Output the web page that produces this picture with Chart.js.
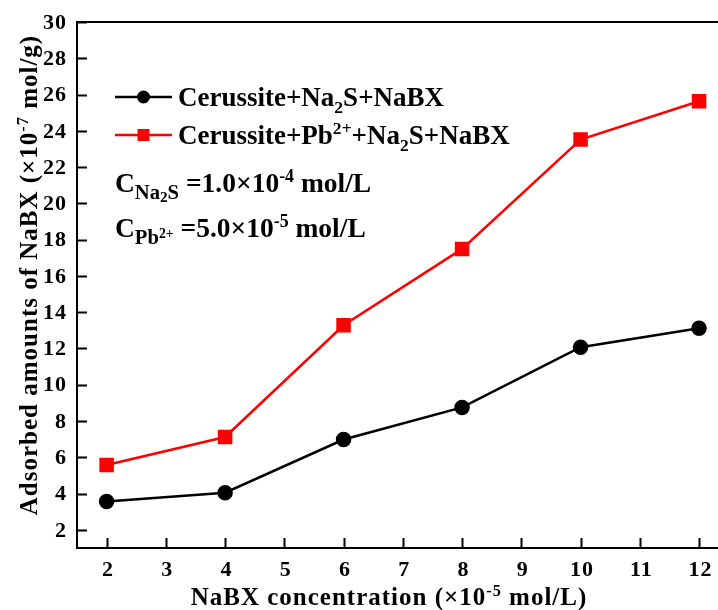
<!DOCTYPE html>
<html>
<head>
<meta charset="utf-8">
<script src="https://cdn.jsdelivr.net/npm/chart.js@4.4.1/dist/chart.umd.min.js"></script>
<style>
  html, body { margin: 0; padding: 0; background: #fff; overflow: hidden; }
  #wrap { width: 729px; height: 610px; position: relative; }
</style>
</head>
<body>
<div id="wrap"><canvas id="myChart"></canvas></div>
<script>
const ctx = document.getElementById("myChart")

// NaBX concentration (x10^-5 mol/L)
const concentrations = [2, 4, 6, 8, 10, 12]
const cerussiteNa2S = [3.56, 4.05, 6.98, 8.75, 12.07, 13.12]
const cerussitePbNa2S = [5.58, 7.12, 13.28, 17.49, 23.52, 25.63]

const xTicks = [2, 3, 4, 5, 6, 7, 8, 9, 10, 11, 12]
const yTicks = [2, 4, 6, 8, 10, 12, 14, 16, 18, 20, 22, 24, 26, 28, 30]

const serif = '"Liberation Serif", "Times New Roman", serif'

const toPoints = (ys) => concentrations.map((x, i) => ({ x, y: ys[i] }))

// draws text made of pieces with sub/superscripts
function drawRich(c, x, y, segs, base) {
  segs.forEach(s => {
    const k = s.k || 1
    c.font = `bold ${base * k}px ${serif}`
    c.fillText(s.t, x, y + (s.dy || 0) * base)
    x += c.measureText(s.t).width
  })
  return x
}
function richWidth(c, segs, base) {
  let w = 0
  segs.forEach(s => {
    c.font = `bold ${base * (s.k || 1)}px ${serif}`
    w += c.measureText(s.t).width
  })
  return w
}

const sub = (t) => ({ t, k: 0.65, dy: 0.25 })
const sup = (t) => ({ t, k: 0.65, dy: -0.38 })

const extras = {
  id: 'extras',
  afterDraw(chart) {
    const c = chart.ctx
    const area = chart.chartArea
    const xs = chart.scales.x
    const ys = chart.scales.y
    c.save()
    c.strokeStyle = '#000'
    c.fillStyle = '#000'
    c.lineWidth = 2

    // top frame line
    c.beginPath()
    c.moveTo(area.left, area.top)
    c.lineTo(area.right, area.top)
    c.stroke()

    // inward ticks
    c.beginPath()
    xTicks.forEach(v => {
      const px = Math.round(xs.getPixelForValue(v)) + 0.5
      c.moveTo(px, area.bottom)
      c.lineTo(px, area.bottom - 10)
    })
    yTicks.forEach(v => {
      const py = Math.round(ys.getPixelForValue(v)) + 0.5
      c.moveTo(area.left, py)
      c.lineTo(area.left + 10, py)
    })
    c.stroke()

    // tick numbers (slightly spaced like the original)
    const sp = 1
    c.letterSpacing = sp + 'px'
    c.font = `bold 22px ${serif}`
    c.textBaseline = 'middle'
    c.textAlign = 'right'
    yTicks.forEach(v => {
      c.fillText(String(v), area.left - 11 + sp, ys.getPixelForValue(v) + 1)
    })
    c.textBaseline = 'alphabetic'
    c.textAlign = 'center'
    xTicks.forEach(v => {
      c.fillText(String(v), xs.getPixelForValue(v) + 1 + sp / 2, 576)
    })
    c.letterSpacing = '0px'

    // legend
    c.textAlign = 'left'
    const legendRows = [
      { color: '#000', style: 'circle', y: 97,
        segs: [{ t: 'Cerussite+Na' }, sub('2'), { t: 'S+NaBX' }] },
      { color: '#ff0000', style: 'rect', y: 135,
        segs: [{ t: 'Cerussite+Pb' }, sup('2+'), { t: '+Na' }, sub('2'), { t: 'S+NaBX' }] }
    ]
    legendRows.forEach(r => {
      c.strokeStyle = r.color
      c.fillStyle = r.color
      c.lineWidth = 2.5
      c.beginPath()
      c.moveTo(115, r.y)
      c.lineTo(172, r.y)
      c.stroke()
      c.beginPath()
      if (r.style === 'circle') {
        c.arc(143.5, r.y, 6.5, 0, Math.PI * 2)
      } else {
        c.rect(137.5, r.y - 6, 12, 12)
      }
      c.fill()
      c.fillStyle = '#000'
      drawRich(c, 178, r.y + 9, r.segs, 27)
    })

    // concentration notes
    drawRich(c, 115, 192, [
      { t: 'C' }, { t: 'Na', k: 0.75, dy: 0.26 }, { t: '2', k: 0.55, dy: 0.38 },
      { t: 'S', k: 0.75, dy: 0.26 }, { t: ' =1.0×10' }, sup('-4'), { t: ' mol/L' }
    ], 27.5)
    drawRich(c, 115, 237, [
      { t: 'C' }, { t: 'Pb', k: 0.75, dy: 0.26 }, { t: '2+', k: 0.5, dy: 0.02 },
      { t: ' =5.0×10' }, sup('-5'), { t: ' mol/L' }
    ], 27.5)

    // axis titles
    c.letterSpacing = '1px'
    const xt = [{ t: 'NaBX concentration (×10' }, sup('-5'), { t: ' mol/L)' }]
    const xw = richWidth(c, xt, 25)
    drawRich(c, 389 - xw / 2, 605, xt, 25)

    const yt = [{ t: 'Adsorbed amounts of NaBX (×10' }, sup('-7'), { t: ' mol/g)' }]
    const yw = richWidth(c, yt, 25)
    c.translate(37, 275)
    c.rotate(-Math.PI / 2)
    drawRich(c, -yw / 2, 0, yt, 25)
    c.restore()
  }
}

const data = {
  datasets: [{
    label: 'Cerussite+Na2S+NaBX',
    data: toPoints(cerussiteNa2S),
    borderColor: '#000',
    backgroundColor: '#000',
    borderWidth: 2.5,
    pointStyle: 'circle',
    pointRadius: 6.5,
    pointHoverRadius: 6.5,
    tension: 0
  }, {
    label: 'Cerussite+Pb2++Na2S+NaBX',
    data: toPoints(cerussitePbNa2S),
    borderColor: '#ff0000',
    backgroundColor: '#ff0000',
    borderWidth: 2.5,
    pointStyle: 'rect',
    pointRadius: 8.5,
    pointHoverRadius: 8.5,
    tension: 0
  }]
}

const config = {
  type: 'line',
  data: data,
  options: {
    responsive: true,
    maintainAspectRatio: false,
    animation: false,
    layout: { padding: { top: 22, right: 11, left: 0, bottom: 0 } },
    plugins: {
      legend: { display: false },
      tooltip: { enabled: false }
    },
    scales: {
      x: {
        type: 'linear',
        min: 1.5,
        max: 12.32,
        afterBuildTicks: (s) => { s.ticks = xTicks.map(v => ({ value: v })) },
        afterFit: (s) => { s.height = 62 },
        grid: { drawOnChartArea: false, drawTicks: false },
        border: { display: true, color: '#000', width: 2 },
        ticks: { display: false }
      },
      y: {
        type: 'linear',
        min: 1,
        max: 30,
        afterBuildTicks: (s) => { s.ticks = yTicks.map(v => ({ value: v })) },
        afterFit: (s) => { s.width = 77 },
        grid: { drawOnChartArea: false, drawTicks: false },
        border: { display: true, color: '#000', width: 2 },
        ticks: { display: false }
      }
    }
  },
  plugins: [extras]
}

const myChart = new Chart(ctx, config)
</script>
</body>
</html>
